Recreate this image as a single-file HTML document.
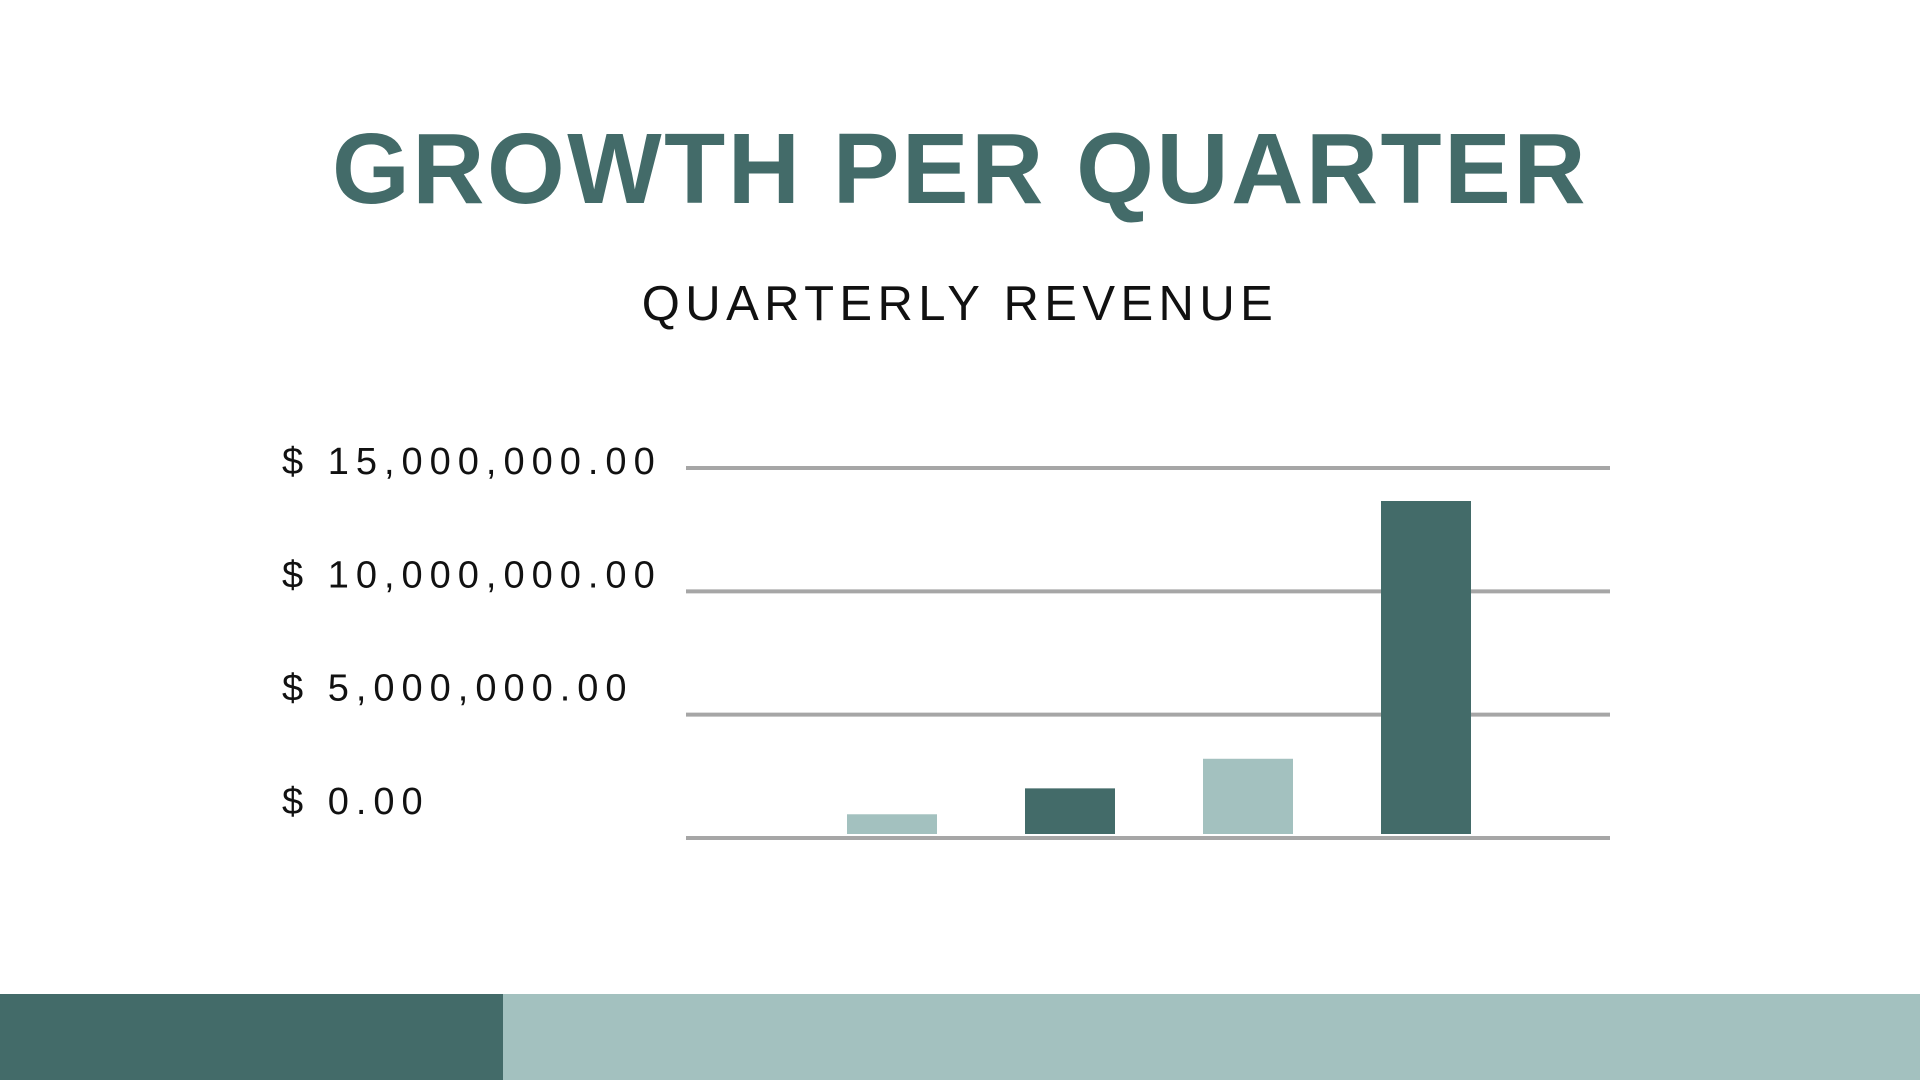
<!DOCTYPE html>
<html><head><meta charset="utf-8"><style>
html,body{margin:0;padding:0;width:1920px;height:1080px;background:#fff;overflow:hidden;font-family:"Liberation Sans",sans-serif;}
#title{position:absolute;left:0;width:1920px;top:119px;text-align:center;font-size:100px;font-weight:bold;color:#436b69;letter-spacing:2.5px;line-height:1;}
#sub{position:absolute;left:0;width:1920px;top:280px;text-align:center;font-size:49px;color:#111;letter-spacing:5.4px;line-height:1;}
svg{position:absolute;left:0;top:0;}
.foot{position:absolute;top:994px;height:86px;}
</style></head><body>
<div id="title">GROWTH PER QUARTER</div>
<div id="sub">QUARTERLY REVENUE</div>
<svg id="chart" width="1920" height="1080"></svg>
<div class="foot" style="left:0;width:503px;background:#436b69"></div>
<div class="foot" style="left:503px;width:1417px;background:#a3c1bf"></div>
<script>
const categories=["Q1","Q2","Q3","Q4"];
const revenue=[800000,1850000,3050000,13500000];
const tickValues=[0,5000000,10000000,15000000];
const tickLabels=["$ 0.00","$ 5,000,000.00","$ 10,000,000.00","$ 15,000,000.00"];
const NS="http://www.w3.org/2000/svg";
const svg=document.getElementById('chart');
const y0=838,y1=468,vmax=15000000;
function y(v){return y0-(v/vmax)*(y0-y1);}
function ly(v){return 814-(v/vmax)*340;}
function x(i){return 847+i*178;}
const bw=90;
tickValues.forEach((v,i)=>{
  const l=document.createElementNS(NS,'line');
  l.setAttribute('x1',686);l.setAttribute('x2',1610);
  l.setAttribute('y1',y(v));l.setAttribute('y2',y(v));
  l.setAttribute('stroke','#a6a6a6');l.setAttribute('stroke-width',4);
  
  
  svg.appendChild(l);
  const t=document.createElementNS(NS,'text');
  t.setAttribute('x',282);t.setAttribute('y',ly(v));
  t.setAttribute('font-size',38);t.setAttribute('letter-spacing',7);
  t.setAttribute('fill','#111');t.setAttribute('font-family','Liberation Sans, sans-serif');
  t.textContent=tickLabels[i];
  
  
  svg.appendChild(t);
});
revenue.forEach((v,i)=>{
  const r=document.createElementNS(NS,'rect');
  r.setAttribute('x',x(i));r.setAttribute('width',bw);
  r.setAttribute('y',y(v)-4);r.setAttribute('height',y0-4-(y(v)-4));
  r.setAttribute('fill',i%2==0?'#a3c1bf':'#436b69');
  
  
  svg.appendChild(r);
});
</script>
</body></html>
